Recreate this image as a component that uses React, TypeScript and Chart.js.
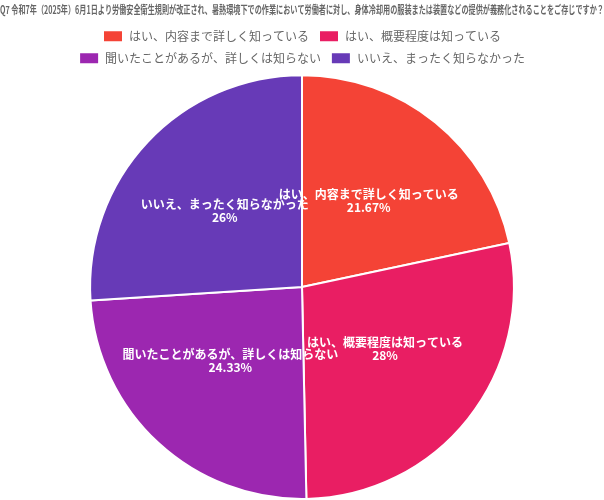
import React, { useEffect, useRef } from "react";
import { Chart, registerables } from "chart.js";

Chart.register(...registerables);

const titleText =
  "Q7 令和7年（2025年）6月1日より労働安全衛生規則が改正され、暑熱環境下での作業において労働者に対し、身体冷却用の服装または装置などの提供が義務化されることをご存じですか？";
const categories = [
  "はい、内容まで詳しく知っている",
  "はい、概要程度は知っている",
  "聞いたことがあるが、詳しくは知らない",
  "いいえ、まったく知らなかった",
];
const values = [21.67, 28, 24.33, 26];
const colors = ["#F44336", "#E91E63", "#9C27B0", "#673AB7"];

const FONT = "'Noto Sans CJK JP', 'Noto Sans', sans-serif";

const labelPlugin = {
  id: "sliceLabels",
  afterDatasetsDraw(chart: any) {
    const ctx = chart.ctx;
    const meta = chart.getDatasetMeta(0);
    ctx.save();
    ctx.fillStyle = "#ffffff";
    ctx.font = `bold 12px ${FONT}`;
    ctx.textAlign = "center";
    ctx.textBaseline = "middle";
    meta.data.forEach((arc: any, i: number) => {
      const p = arc.getCenterPoint();
      const lines = [categories[i], `${values[i]}%`];
      const lh = 13;
      const y0 = p.y - lh / 2 - 4;
      lines.forEach((t, j) => ctx.fillText(t, p.x, y0 + j * lh));
    });
    ctx.restore();
  },
};

export default function App() {
  const ref = useRef<HTMLCanvasElement | null>(null);
  useEffect(() => {
    document.body.style.margin = "0";
    const chart = new Chart(ref.current!, {
      type: "pie",
      data: {
        labels: categories,
        datasets: [
          {
            data: values,
            backgroundColor: colors,
            borderColor: "#ffffff",
            borderWidth: 2,
          },
        ],
      },
      options: {
        animation: false,
        responsive: true,
        maintainAspectRatio: false,
        layout: { padding: 0 },
        plugins: {
          title: {
            display: true,
            text: titleText,
            color: "#666666",
            font: { family: FONT, size: 11, weight: "bold" },
            padding: { top: 3, bottom: 4 },
          },
          legend: {
            position: "top",
            labels: {
              color: "#666666",
              boxWidth: 20,
              boxHeight: 12,
              font: { family: FONT, size: 12 },
            },
          },
          tooltip: { enabled: false },
        },
      },
      plugins: [labelPlugin],
    });
    return () => chart.destroy();
  }, []);
  return (
    <div style={{ width: 604, height: 500, position: "relative" }}>
      <canvas ref={ref} />
    </div>
  );
}
